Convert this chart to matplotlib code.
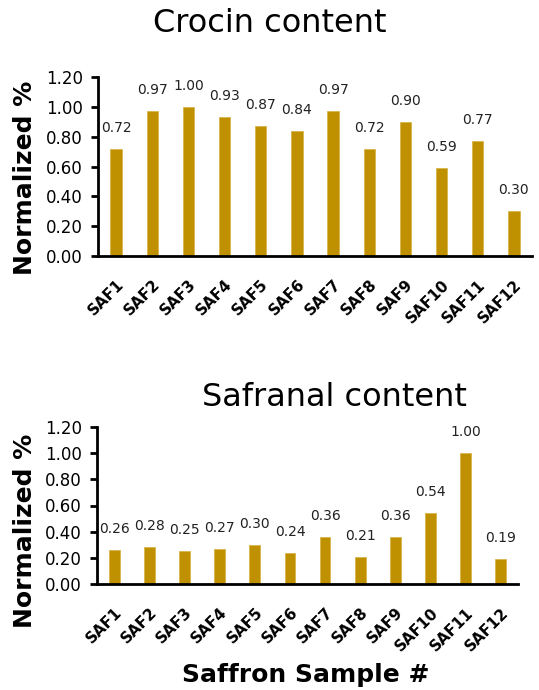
import matplotlib
matplotlib.use("Agg")
import matplotlib.pyplot as plt
import matplotlib.transforms as mtransforms
import numpy as np

samples = ["SAF1", "SAF2", "SAF3", "SAF4", "SAF5", "SAF6",
           "SAF7", "SAF8", "SAF9", "SAF10", "SAF11", "SAF12"]
crocin = [0.72, 0.97, 1.00, 0.93, 0.87, 0.84, 0.97, 0.72, 0.90, 0.59, 0.77, 0.30]
safranal = [0.26, 0.28, 0.25, 0.27, 0.30, 0.24, 0.36, 0.21, 0.36, 0.54, 1.00, 0.19]
yticks = [0.0, 0.2, 0.4, 0.6, 0.8, 1.0, 1.2]

BAR = "#BF9000"
plt.rcParams["font.family"] = ["DejaVu Sans"]

fig = plt.figure(figsize=(5.39, 6.90), dpi=100)
W, H = 539, 690

def pos(l, r, t, b):
    return [l / W, 1 - b / H, (r - l) / W, (b - t) / H]

ax1 = fig.add_axes(pos(98, 532, 77, 256))
ax2 = fig.add_axes(pos(97, 518, 427, 584))

def draw(ax, vals):
    x = np.arange(len(samples))
    ax.bar(x, vals, width=0.31, color=BAR, edgecolor="#D9B44A", linewidth=0.6)
    ax.set_xlim(-0.5, len(samples) - 0.5)
    ax.set_ylim(0, 1.2)
    ax.set_yticks(yticks)
    ax.set_yticklabels([f"{v:.2f}" for v in yticks], fontsize=12)
    ax.set_xticks(x)
    ax.set_xticklabels(samples, rotation=45, ha="right", rotation_mode="anchor",
                       fontsize=11, fontweight="bold")
    off = mtransforms.ScaledTranslation(5 / 100, 0, fig.dpi_scale_trans)
    for lab in ax.get_xticklabels():
        lab.set_transform(lab.get_transform() + off)
    ax.tick_params(axis="x", length=0, pad=15)
    ax.tick_params(axis="y", length=5, width=2, pad=6)
    for s in ["top", "right"]:
        ax.spines[s].set_visible(False)
    for s in ["left", "bottom"]:
        ax.spines[s].set_linewidth(2)
    for xi, v in zip(x, vals):
        ax.annotate(f"{v:.2f}", (xi, v), xytext=(0, 10), textcoords="offset points",
                    ha="center", va="bottom", fontsize=10, color="#222222")

draw(ax1, crocin)
draw(ax2, safranal)

fig.text(25 / W, 1 - 178 / H, "Normalized %", fontsize=18, fontweight="bold",
         rotation=90, ha="center", va="center")
fig.text(25 / W, 1 - 531 / H, "Normalized %", fontsize=18, fontweight="bold",
         rotation=90, ha="center", va="center")
fig.text(270 / W, 1 - 24 / H, "Crocin content", fontsize=23, ha="center", va="center")
fig.text(334 / W, 1 - 398 / H, "Safranal content", fontsize=23, ha="center", va="center")
fig.text(306 / W, 1 - 675 / H, "Saffron Sample #", fontsize=18, fontweight="bold",
         ha="center", va="center")

fig.savefig("out.png", dpi=100)
